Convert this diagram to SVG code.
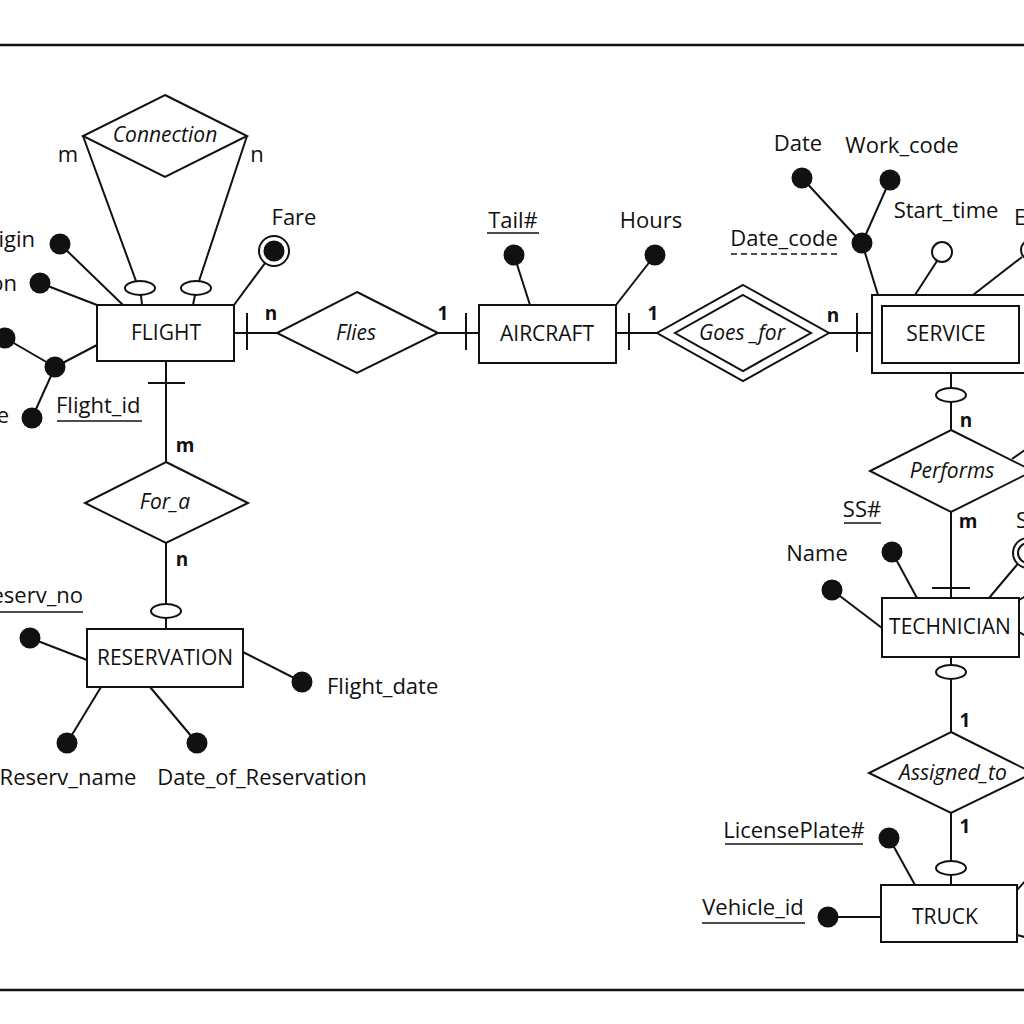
<svg xmlns="http://www.w3.org/2000/svg" width="1024" height="1024" viewBox="0 0 1024 1024">
<style>
.ln{stroke:#111;stroke-width:2;fill:none}
.sh{fill:#fff;stroke:#111;stroke-width:2}
.dot{fill:#111}
.hol{fill:#fff;stroke:#111;stroke-width:2}
.ov{fill:#fff;stroke:#111;stroke-width:2}
.t{font-family:"Open Sans","Noto Sans",sans-serif;font-size:22px;fill:#111}
.e{font-size:21px;text-anchor:middle}
.i{font-style:italic;text-anchor:middle;font-size:21px}
.b{font-weight:bold;font-size:19px;text-anchor:middle}
.m{text-anchor:middle}
.ul{stroke:#111;stroke-width:1.6}
.dash{stroke:#111;stroke-width:1.6;stroke-dasharray:6 4}
.frame{stroke:#111;stroke-width:2.5}
</style>
<rect x="0" y="0" width="1024" height="1024" fill="#fff"/>
<line class="frame" x1="0" y1="45" x2="1024" y2="45"/>
<line class="frame" x1="0" y1="990" x2="1024" y2="990"/>

<g id="connectors">
  <line class="ln" x1="83" y1="136" x2="136" y2="281"/>
  <line class="ln" x1="141" y1="295" x2="142" y2="305"/>
  <line class="ln" x1="247" y1="136" x2="199" y2="281"/>
  <line class="ln" x1="195" y1="295" x2="193" y2="305"/>
  <ellipse class="ov" cx="140" cy="288" rx="15" ry="7"/>
  <ellipse class="ov" cx="196" cy="288" rx="15" ry="7"/>
  <line class="ln" x1="234" y1="333" x2="277" y2="333"/>
  <line class="ln" x1="247" y1="313" x2="247" y2="350"/>
  <line class="ln" x1="438" y1="333" x2="479" y2="333"/>
  <line class="ln" x1="466" y1="313" x2="466" y2="350"/>
  <line class="ln" x1="616" y1="333" x2="657" y2="333"/>
  <line class="ln" x1="629" y1="313" x2="629" y2="350"/>
  <line class="ln" x1="829" y1="333" x2="872" y2="333"/>
  <line class="ln" x1="857" y1="313" x2="857" y2="352"/>
  <line class="ln" x1="951" y1="373" x2="951" y2="430"/>
  <ellipse class="ov" cx="951" cy="395" rx="15" ry="7"/>
  <line class="ln" x1="951" y1="512" x2="951" y2="598"/>
  <line class="ln" x1="932" y1="588" x2="970" y2="588"/>
  <line class="ln" x1="1012" y1="459" x2="1032" y2="445"/>
  <line class="ln" x1="951" y1="657" x2="951" y2="732"/>
  <ellipse class="ov" cx="951" cy="672" rx="15" ry="7"/>
  <line class="ln" x1="951" y1="813" x2="951" y2="885"/>
  <ellipse class="ov" cx="951" cy="868" rx="15" ry="7"/>
  <line class="ln" x1="1019" y1="600" x2="1028" y2="595"/>
  <line class="ln" x1="1019" y1="632" x2="1028" y2="637"/>
  <line class="ln" x1="1017" y1="890" x2="1028" y2="878"/>
  <line class="ln" x1="1017" y1="935" x2="1028" y2="938"/>
  <line class="ln" x1="166" y1="361" x2="166" y2="462"/>
  <line class="ln" x1="148" y1="383" x2="185" y2="383"/>
  <line class="ln" x1="166" y1="543" x2="166" y2="629"/>
  <ellipse class="ov" cx="166" cy="611" rx="15" ry="7"/>
  <line class="ln" x1="60" y1="244" x2="123" y2="305"/>
  <line class="ln" x1="40" y1="283" x2="97" y2="305"/>
  <line class="ln" x1="5" y1="338" x2="55" y2="367"/>
  <line class="ln" x1="55" y1="367" x2="97" y2="345"/>
  <line class="ln" x1="32" y1="418" x2="55" y2="367"/>
  <line class="ln" x1="274" y1="251" x2="234" y2="305"/>
  <line class="ln" x1="514" y1="255" x2="530" y2="305"/>
  <line class="ln" x1="655" y1="255" x2="616" y2="305"/>
  <line class="ln" x1="802" y1="178" x2="862" y2="243"/>
  <line class="ln" x1="890" y1="180" x2="862" y2="243"/>
  <line class="ln" x1="862" y1="243" x2="878" y2="295"/>
  <line class="ln" x1="937" y1="261" x2="915" y2="295"/>
  <line class="ln" x1="1022" y1="257" x2="973" y2="295"/>
  <line class="ln" x1="892" y1="552" x2="917" y2="598"/>
  <line class="ln" x1="832" y1="590" x2="882" y2="628"/>
  <line class="ln" x1="1027" y1="553" x2="989" y2="598"/>
  <line class="ln" x1="889" y1="838" x2="915" y2="885"/>
  <line class="ln" x1="828" y1="917" x2="881" y2="917"/>
  <line class="ln" x1="30" y1="638" x2="87" y2="660"/>
  <line class="ln" x1="302" y1="682" x2="243" y2="652"/>
  <line class="ln" x1="67" y1="743" x2="101" y2="687"/>
  <line class="ln" x1="197" y1="743" x2="150" y2="687"/>
  <text class="t" x="68" y="162" text-anchor="middle">m</text>
  <text class="t" x="257" y="162" text-anchor="middle">n</text>
  <text class="t b" x="271" y="320">n</text>
  <text class="t b" x="443" y="320">1</text>
  <text class="t b" x="653" y="320">1</text>
  <text class="t b" x="833" y="322">n</text>
  <text class="t b" x="966" y="427">n</text>
  <text class="t b" x="968" y="528">m</text>
  <text class="t b" x="965" y="727">1</text>
  <text class="t b" x="965" y="833">1</text>
  <text class="t b" x="185" y="452">m</text>
  <text class="t b" x="182" y="566">n</text>
</g>

<g id="connection">
  <polygon class="sh" points="165,95 247,136 165,177 83,136"/>
  <text class="t i" x="165" y="142">Connection</text>
</g>
<g id="flight">
  <rect class="sh" x="97" y="305" width="137" height="56"/>
  <text class="t e" x="166" y="340">FLIGHT</text>
</g>
<g id="flight-attrs">
  <circle class="dot" cx="60" cy="244" r="10.5"/>
  <text class="t" x="35" y="247" text-anchor="end">igin</text>
  <circle class="dot" cx="40" cy="283" r="10.5"/>
  <text class="t" x="17" y="291" text-anchor="end">on</text>
  <circle class="dot" cx="5" cy="338" r="10.5"/>
  <circle class="dot" cx="55" cy="367" r="10.5"/>
  <circle class="dot" cx="32" cy="418" r="10.5"/>
  <text class="t" x="9" y="423" text-anchor="end">e</text>
  <text class="t" x="56" y="413">Flight_id</text>
  <line class="ul" x1="57" y1="421" x2="142" y2="421"/>
  <circle class="hol" cx="274" cy="251" r="15"/>
  <circle class="dot" cx="274" cy="251" r="10.5"/>
  <text class="t m" x="294" y="225">Fare</text>
</g>
<g id="flies">
  <polygon class="sh" points="357,292 438,333 357,373 277,333"/>
  <text class="t i" x="356" y="340">Flies</text>
</g>
<g id="aircraft">
  <rect class="sh" x="479" y="305" width="137" height="58"/>
  <text class="t e" x="547" y="341">AIRCRAFT</text>
  <circle class="dot" cx="514" cy="255" r="10.5"/>
  <text class="t m" x="513" y="228">Tail#</text>
  <line class="ul" x1="487" y1="233" x2="539" y2="233"/>
  <circle class="dot" cx="655" cy="255" r="10.5"/>
  <text class="t m" x="651" y="228">Hours</text>
</g>
<g id="goes_for">
  <polygon class="sh" points="743,285 829,333 743,381 657,333"/>
  <polygon class="sh" points="743,295 811,333 743,371 675,333"/>
  <text class="t i" x="742" y="340">Goes _for</text>
</g>
<g id="service">
  <rect class="sh" x="872" y="295" width="170" height="78"/>
  <rect class="sh" x="882" y="306" width="137" height="57"/>
  <text class="t e" x="946" y="341">SERVICE</text>
  <circle class="dot" cx="802" cy="178" r="10.5"/>
  <text class="t m" x="798" y="151">Date</text>
  <circle class="dot" cx="890" cy="180" r="10.5"/>
  <text class="t m" x="902" y="153">Work_code</text>
  <circle class="dot" cx="862" cy="243" r="10.5"/>
  <text class="t m" x="784" y="246">Date_code</text>
  <line class="dash" x1="731" y1="254" x2="837" y2="254"/>
  <circle class="hol" cx="942" cy="252" r="10"/>
  <text class="t m" x="946" y="218">Start_time</text>
  <circle class="hol" cx="1031" cy="250" r="10"/>
  <text class="t" x="1014" y="225">E</text>
</g>
<g id="performs">
  <polygon class="sh" points="951,430 1033,471 951,512 870,471"/>
  <text class="t i" x="952" y="478">Performs</text>
</g>
<g id="technician">
  <rect class="sh" x="882" y="598" width="137" height="59"/>
  <text class="t e" x="950" y="634">TECHNICIAN</text>
  <circle class="dot" cx="892" cy="552" r="10.5"/>
  <text class="t m" x="862" y="517">SS#</text>
  <line class="ul" x1="844" y1="523" x2="881" y2="523"/>
  <circle class="dot" cx="832" cy="590" r="10.5"/>
  <text class="t m" x="817" y="561">Name</text>
  <circle class="hol" cx="1028" cy="553" r="15"/>
  <circle class="hol" cx="1028" cy="553" r="10"/>
  <text class="t" x="1016" y="528">S</text>
</g>
<g id="assigned_to">
  <polygon class="sh" points="951,732 1033,773 951,813 869,773"/>
  <text class="t i" x="953" y="780">Assigned_to</text>
</g>
<g id="truck">
  <rect class="sh" x="881" y="885" width="136" height="57"/>
  <text class="t e" x="945" y="924">TRUCK</text>
  <circle class="dot" cx="889" cy="838" r="10.5"/>
  <text class="t m" x="794" y="838">LicensePlate#</text>
  <line class="ul" x1="725" y1="844" x2="863" y2="844"/>
  <circle class="dot" cx="828" cy="917" r="10.5"/>
  <text class="t m" x="753" y="915">Vehicle_id</text>
  <line class="ul" x1="702" y1="923" x2="805" y2="923"/>
</g>
<g id="for_a">
  <polygon class="sh" points="166,462 248,503 166,543 85,503"/>
  <text class="t i" x="165" y="509">For_a</text>
</g>
<g id="reservation">
  <rect class="sh" x="87" y="629" width="156" height="58"/>
  <text class="t e" x="165" y="665">RESERVATION</text>
  <circle class="dot" cx="30" cy="638" r="10.5"/>
  <text class="t" x="83" y="603" text-anchor="end">eserv_no</text>
  <line class="ul" x1="0" y1="612" x2="83" y2="612"/>
  <circle class="dot" cx="302" cy="682" r="10.5"/>
  <text class="t" x="327" y="694">Flight_date</text>
  <circle class="dot" cx="67" cy="743" r="10.5"/>
  <text class="t m" x="68" y="785">Reserv_name</text>
  <circle class="dot" cx="197" cy="743" r="10.5"/>
  <text class="t m" x="262" y="785">Date_of_Reservation</text>
</g>
</svg>
